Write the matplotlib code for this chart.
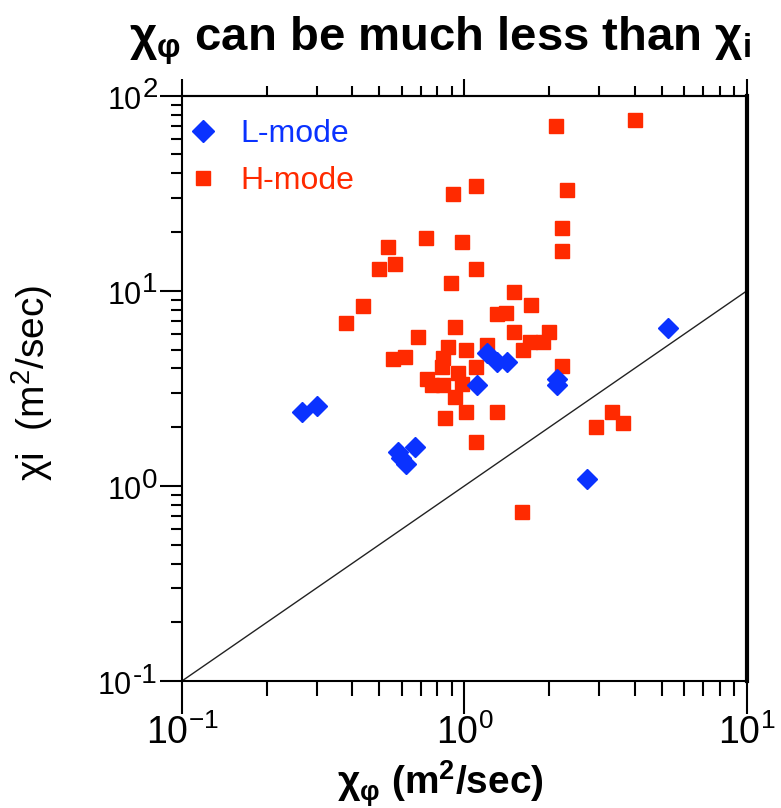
import matplotlib
matplotlib.use("Agg")
import matplotlib.pyplot as plt
from matplotlib.lines import Line2D

plt.rcParams["font.family"] = ["Liberation Sans", "DejaVu Sans"]
plt.rcParams["mathtext.default"] = "regular"
plt.rcParams["axes.unicode_minus"] = False

# chi_phi, chi_i in m^2/sec
lmode_phi = [0.265, 0.300, 0.583, 0.668, 0.619, 0.596, 1.105, 1.20, 1.30, 1.41,
             2.12, 2.13, 2.71, 5.26]
lmode_i = [2.40, 2.56, 1.49, 1.585, 1.29, 1.39, 3.28, 4.78, 4.32, 4.32,
           3.53, 3.28, 1.09, 6.46]

hmode_phi = [2.11, 4.01, 2.31, 1.10, 0.911, 2.21, 2.21, 0.536, 0.731, 0.98,
             0.568, 0.498, 1.10, 0.437, 0.380, 1.50, 1.72, 0.896, 0.929, 0.684,
             0.874, 1.012, 0.558, 0.616, 1.30, 1.40, 1.50, 2.00, 1.90, 1.71,
             1.61, 1.20, 0.841, 0.831, 1.10, 2.21, 0.734, 0.765, 0.841, 0.951,
             0.977, 0.926, 1.012, 0.853, 1.30, 1.10, 3.32, 3.63, 2.91, 1.60]
hmode_i = [69.9, 75.1, 33.0, 34.4, 31.3, 21.0, 16.0, 16.8, 18.6, 17.8,
           13.7, 12.9, 12.9, 8.35, 6.83, 9.9, 8.5, 10.95, 6.51, 5.82,
           5.17, 4.97, 4.49, 4.60, 7.64, 7.68, 6.16, 6.16, 5.48, 5.48,
           4.97, 5.27, 4.50, 4.08, 4.08, 4.11, 3.55, 3.28, 3.28, 3.77,
           3.32, 2.86, 2.40, 2.22, 2.40, 1.68, 2.40, 2.10, 2.01, 0.731]

unity = [0.1, 10]

y_major = [0.1, 1, 10, 100]
y_exps = ["-1", "0", "1", "2"]

BLUE = "#0a32ff"
RED = "#ff2a00"

fig = plt.figure(figsize=(7.81, 8.08), dpi=100)
ax = fig.add_axes([0.2330, 0.1572, 0.7234, 0.7244])

ax.plot(unity, unity, color="#222222", lw=1.0, zorder=1)
ax.plot(hmode_phi, hmode_i, ls="none", marker="s", ms=10, color=RED,
        mec=RED, zorder=2)
ax.plot(lmode_phi, lmode_i, ls="none", marker="D", ms=10, color=BLUE,
        mec=BLUE, zorder=3)

ax.set_xscale("log")
ax.set_yscale("log")
ax.set_xlim(0.1, 10)
ax.set_ylim(0.1, 100)

for side in ["left", "bottom", "top"]:
    ax.spines[side].set_linewidth(1.5)
ax.spines["right"].set_linewidth(3)

ax.tick_params(axis="y", which="major", direction="out", length=16, width=1.5,
               labelleft=False, right=False)
ax.tick_params(axis="y", which="minor", direction="out", length=8, width=1.5,
               right=False)
ax.tick_params(axis="x", which="major", direction="out", length=24, width=1.5,
               labelsize=27, pad=0, top=False)
ax.tick_params(axis="x", which="minor", direction="out", length=11, width=1.5,
               top=False)

# y tick labels: "10" with a nearly full-size exponent
renderer = fig.canvas.get_renderer()
for v, e in zip(y_major, y_exps):
    t_exp = ax.annotate(e, xy=(0, v), xycoords=("axes fraction", "data"),
                        xytext=(-17.5, 6), textcoords="offset points",
                        ha="right", va="center_baseline", fontsize=20)
    w = t_exp.get_window_extent(renderer).width * 72 / fig.dpi
    ax.annotate("10", xy=(0, v), xycoords=("axes fraction", "data"),
                xytext=(-17.5 - w - 0.5, -1), textcoords="offset points",
                ha="right", va="center_baseline", fontsize=22)

# short outward ticks along the top edge
top = ax.twiny()
top.set_xscale("log")
top.set_xlim(ax.get_xlim())
top.tick_params(axis="x", which="major", direction="out", length=12, width=1.5,
                labeltop=False)
top.tick_params(axis="x", which="minor", direction="out", length=7, width=1.5)
top.spines["right"].set_visible(False)
top.spines["left"].set_visible(False)
top.spines["bottom"].set_visible(False)
top.spines["top"].set_linewidth(1.5)

ax.set_xlabel("χ$_φ$ (m$^2$/sec)", fontsize=28, fontweight="bold")
ax.xaxis.set_label_coords(0.457, -0.132)
ax.set_ylabel("χi  (m$^2$/sec)", fontsize=28)
ax.yaxis.set_label_coords(-0.225, 0.51)
fig.suptitle("χ$_φ$ can be much less than χ$_i$", fontsize=34,
             fontweight="bold", x=0.563, y=0.982)

handles = [
    Line2D([], [], ls="none", marker="D", ms=11, color=BLUE),
    Line2D([], [], ls="none", marker="s", ms=10, color=RED),
]
leg = ax.legend(handles, ["L-mode", "H-mode"], loc="upper left",
                bbox_to_anchor=(0.0, 0.974), frameon=False,
                fontsize=23, handlelength=0.8, handletextpad=0.78,
                labelspacing=0.55, borderaxespad=0.15, borderpad=0.1,
                labelcolor=[BLUE, RED])

fig.savefig("out.png", dpi=100)
